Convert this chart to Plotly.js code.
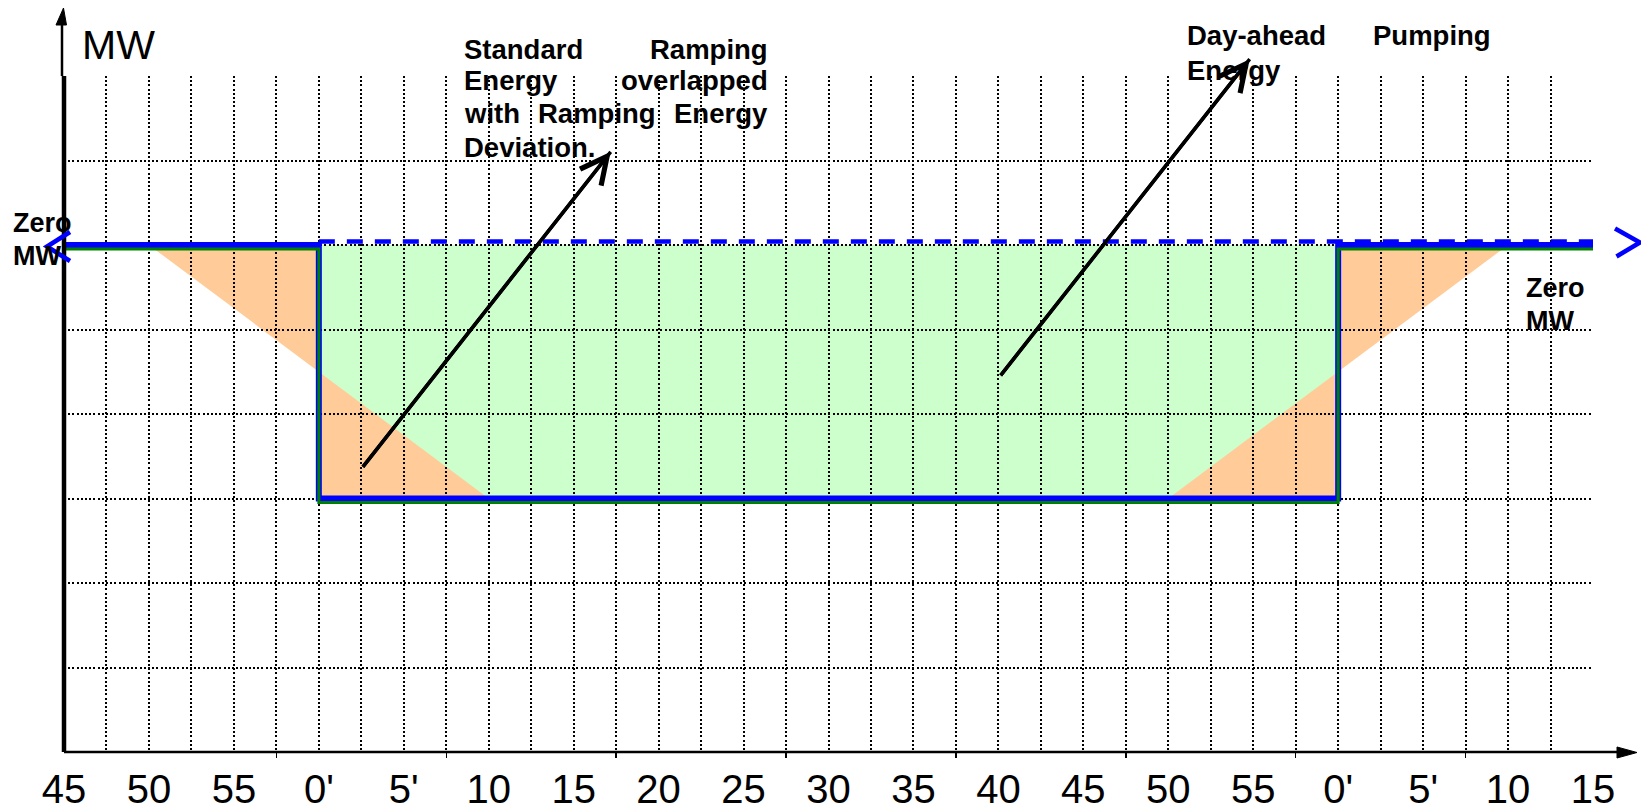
<!DOCTYPE html>
<html>
<head>
<meta charset="utf-8">
<script src="https://cdn.plot.ly/plotly-3.0.1.min.js"></script>
<style>
html,body{margin:0;padding:0;background:#fff;overflow:hidden}
#chart{width:1641px;height:811px}
</style>
</head>
<body>
<div id="chart"></div>
<script>
// ---- time axis (minutes counted from the first tick "45") ----
const tickLabels = ['45','50','55',"0'","5'",'10','15','20','25','30','35','40','45','50','55',"0'","5'",'10','15'];
const tickMinutes = [0,5,10,15,20,25,30,35,40,45,50,55,60,65,70,75,80,85,90];
const axisTickMinutes = [12.5,22.5,32.5,42.5,52.5,62.5,72.5,82.5];
// ---- MW levels (zero MW = 0, pumping level = -3) ----
const mwGridLevels = [-6,-5,-4,-3,-2,-1,0,1,2];
// ---- pumping schedule (blue step) ----
const pumpX = [0,15,15,75,75,90];
const pumpY = [0,0,-3,-3,0,0];
// ---- zero MW reference (dashed) ----
const zeroLineX = [15,90];
const zeroLineY = [0,0];
// ---- day-ahead energy area (green) ----
const dayAheadX = [15,75,75,15];
const dayAheadY = [-3,-3,0,0];
// ---- ramping deviation areas (orange, step closed by the ramp) ----
const rampLeftX = [5,15,15,25];
const rampLeftY = [0,0,-3,-3];
const rampRightX = [65,75,75,85];
const rampRightY = [-3,-3,0,0];

const FONT = 'Liberation Sans, Arial, sans-serif';
const GRIDDASH = '2px,2.2px';

// grid every 2.5 minutes, labels on every 5 minutes
const gridMinutes = [];
const gridText = [];
for (let i = 0; i <= 36; i++) {
  const v = i * 2.5;
  gridMinutes.push(v);
  const k = tickMinutes.indexOf(v);
  gridText.push(k >= 0 ? tickLabels[k] : '');
}

function pathFrom(xs, ys) {
  return xs.map((x, i) => (i ? 'L' : 'M') + x + ',' + ys[i]).join(' ') + ' Z';
}

// pixel -> paper helpers for decorations
const X0 = 64, X1 = 1593, Y0 = 76, Y1 = 752;
const W = X1 - X0, H = Y1 - Y0;
const px = x => (x - X0) / W;
const py = y => (Y1 - y) / H;
const P = (x, y) => px(x).toFixed(5) + ',' + py(y).toFixed(5);

const traces = [
  {type:'scatter', mode:'lines', x:pumpX, y:pumpY, xaxis:'x', yaxis:'y2',
   line:{color:'#008000', width:3}, hoverinfo:'skip', showlegend:false},
  {type:'scatter', mode:'lines', x:pumpX, y:pumpY, xaxis:'x', yaxis:'y',
   line:{color:'#0000FF', width:6}, hoverinfo:'skip', showlegend:false},
  {type:'scatter', mode:'lines', x:zeroLineX, y:zeroLineY, xaxis:'x', yaxis:'y3',
   line:{color:'#0000FF', width:4.5, dash:'16px,12px'}, hoverinfo:'skip', showlegend:false},
  {type:'scatter', mode:'lines', x:[], y:[], xaxis:'x2', yaxis:'y', hoverinfo:'skip', showlegend:false}
];

const shapes = [
  // filled areas below the dotted grid
  {type:'path', xref:'x', yref:'y', layer:'below', path:pathFrom(dayAheadX, dayAheadY),
   fillcolor:'#CCFFCC', line:{width:0}},
  {type:'path', xref:'x', yref:'y', layer:'below', path:pathFrom(rampLeftX, rampLeftY),
   fillcolor:'#FFCC99', line:{width:0}},
  {type:'path', xref:'x', yref:'y', layer:'below', path:pathFrom(rampRightX, rampRightY),
   fillcolor:'#FFCC99', line:{width:0}},
  // y axis
  {type:'line', xref:'paper', yref:'paper', x0:0, x1:0, y0:0, y1:1, line:{color:'black', width:4.5}},
  {type:'line', xref:'paper', yref:'paper', x0:px(62), x1:px(62), y0:1, y1:py(24), line:{color:'black', width:2.5}},
  {type:'path', xref:'paper', yref:'paper', path:'M' + P(56,25) + ' L' + P(66.5,25) + ' L' + P(63.5,8) + ' Z',
   fillcolor:'black', line:{color:'black', width:1}},
  // x axis
  {type:'line', xref:'paper', yref:'paper', x0:0, x1:px(1620), y0:0, y1:0, line:{color:'black', width:2.5}},
  {type:'path', xref:'paper', yref:'paper', path:'M' + P(1617,747) + ' L' + P(1637,752.5) + ' L' + P(1617,758) + ' Z',
   fillcolor:'black', line:{color:'black', width:1}},
  // blue open arrowheads
  {type:'path', xref:'paper', yref:'paper', path:'M' + P(70,232) + ' L' + P(47,246.5) + ' L' + P(70,261),
   fillcolor:'rgba(0,0,0,0)', line:{color:'#0000FF', width:4.5}},
  {type:'path', xref:'paper', yref:'paper', path:'M' + P(1615,228.5) + ' L' + P(1640,242.5) + ' L' + P(1616.5,256.5),
   fillcolor:'rgba(0,0,0,0)', line:{color:'#0000FF', width:4.5}}
];

function word(text, x, y, anchor, size, bold) {
  return {text: bold ? '<b>' + text + '</b>' : text, x:px(x), y:py(y), xref:'paper', yref:'paper',
    xanchor:anchor, yanchor:'middle', showarrow:false, borderpad:0, borderwidth:0,
    font:{family:FONT, size:size, color:'black'}};
}
function arrow(tipX, tipY, tailX, tailY, head) {
  return {text:'', x:px(tipX), y:py(tipY), xref:'paper', yref:'paper', axref:'pixel', ayref:'pixel',
    ax:tailX - tipX, ay:tailY - tipY, showarrow:true, arrowhead:head, arrowsize:1.5,
    arrowwidth:3.5, arrowcolor:'black'};
}

const B = 27.5;
const annotations = [
  word('MW', 82, 45, 'left', 41, false),
  word('Standard', 464, 49.7, 'left', B, true),
  word('Ramping', 768.3, 49.7, 'right', B, true),
  word('Energy', 464, 80.8, 'left', B, true),
  word('overlapped', 768.3, 80.8, 'right', B, true),
  word('with', 464, 114, 'left', B, true),
  word('Ramping', 596.5, 114, 'center', B, true),
  word('Energy', 768.3, 114, 'right', B, true),
  word('Deviation.', 464, 147.5, 'left', B, true),
  word('Day-ahead', 1186.7, 35.9, 'left', B, true),
  word('Pumping', 1490.7, 35.9, 'right', B, true),
  word('Energy', 1186.7, 70.9, 'left', B, true),
  word('Zero', 12.7, 222.5, 'left', 27, true),
  word('MW', 12.7, 256, 'left', 27, true),
  word('Zero', 1526, 287.5, 'left', 27, true),
  word('MW', 1526, 321, 'left', 27, true),
  arrow(610.7, 151.8, 361.7, 468.3, 0),
  arrow(610.7, 151.8, 361.7, 468.3, 5),
  arrow(1249.7, 59.2, 999.5, 376.8, 0),
  arrow(1249.7, 59.2, 999.5, 376.8, 5)
];

const layout = {
  width:1641, height:811,
  margin:{l:64, r:48, t:76, b:59, pad:0},
  paper_bgcolor:'white', plot_bgcolor:'white', showlegend:false,
  xaxis:{range:[0,90], tickmode:'array', tickvals:gridMinutes, ticktext:gridText, ticks:'',
    showgrid:true, gridcolor:'black', gridwidth:2, griddash:GRIDDASH, zeroline:false, showline:false,
    tickfont:{family:FONT, size:40, color:'black'}, ticklabelstandoff:10, fixedrange:true},
  xaxis2:{overlaying:'x', anchor:'y', side:'bottom', range:[0,90], tickmode:'array', tickvals:axisTickMinutes,
    ticks:'outside', ticklen:5, tickwidth:1.5, tickcolor:'black', showticklabels:false,
    showgrid:false, zeroline:false, showline:false, fixedrange:true},
  yaxis:{range:[-6,2], tickmode:'array', tickvals:mwGridLevels, showticklabels:false, ticks:'',
    showgrid:true, gridcolor:'black', gridwidth:2, griddash:GRIDDASH, zeroline:false, showline:false, fixedrange:true},
  yaxis2:{overlaying:'y', range:[-6 + 0.047, 2 + 0.047], visible:false, fixedrange:true},
  yaxis3:{overlaying:'y', range:[-6 - 0.042, 2 - 0.042], visible:false, fixedrange:true},
  shapes:shapes,
  annotations:annotations
};

Plotly.newPlot('chart', traces, layout, {displayModeBar:false, staticPlot:true});
</script>
</body>
</html>
